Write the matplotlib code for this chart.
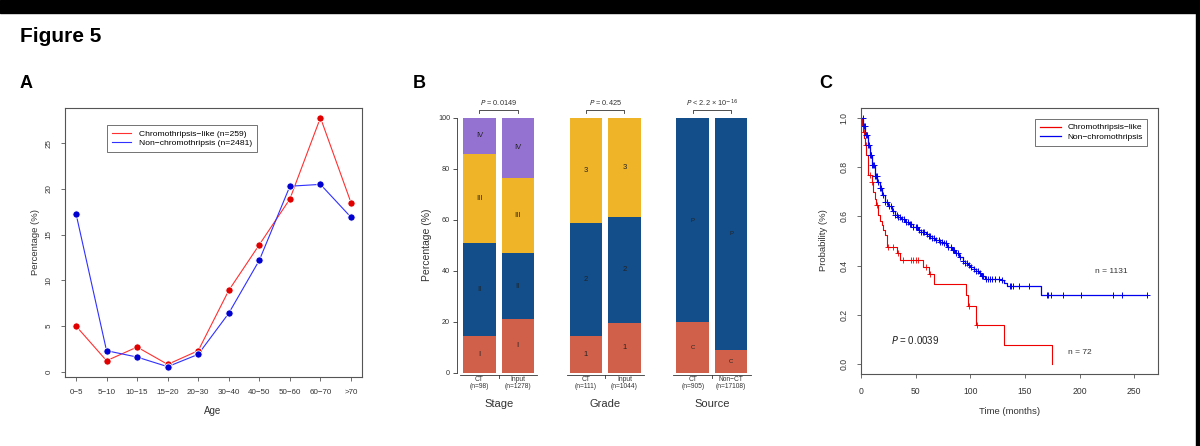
import matplotlib
matplotlib.use("Agg")
import matplotlib.pyplot as plt
from matplotlib.patches import Rectangle
from matplotlib.lines import Line2D
import numpy as np

plt.rcParams['font.family'] = ['Liberation Sans', 'DejaVu Sans']

# ---- data panel A ----
aldersgrupper = ["0−5", "5−10", "10−15", "15−20", "20−30", "30−40", "40−50", "50−60", "60−70", ">70"]
chromo_pct = [5.0, 1.2, 2.7, 0.8, 2.3, 8.9, 13.9, 18.9, 27.8, 18.5]
non_chromo_pct = [17.3, 2.3, 1.6, 0.55, 1.9, 6.4, 12.2, 20.3, 20.5, 16.9]

# ---- data panel B ----
grupper = ["Stage", "Grade", "Source"]
bar_labels = ["CT\n(n=98)", "Input\n(n=1278)", "CT\n(n=111)", "Input\n(n=1044)",
              "CT\n(n=905)", "Non−CT\n(n=17108)"]
p_tekst = [r"$P$ = 0.0149", r"$P$ = 0.425", r"$P$ < 2.2 × 10$^{-16}$"]
# segmenter nedenfra og opp (prosent)
stage_seg = [["I", "II", "III", "IV"], [[14.4, 36.6, 34.8, 14.2], [21.0, 26.0, 29.4, 23.6]]]
grade_seg = [["1", "2", "3"], [[14.4, 44.2, 41.4], [19.5, 41.7, 38.8]]]
source_seg = [["C", "P"], [[19.7, 80.3], [9.0, 91.0]]]

# ---- data panel C (Kaplan-Meier, lest av bildet) ----
red_t = [0, 1, 2.1, 3, 3.7, 5, 6.1, 6.7, 9.8, 11.3, 12.5, 13.4, 15.9, 17.5, 18.9, 20.5, 22,
         23.5, 32.7, 35.5, 57, 62.2, 67, 96, 97.5, 105.5, 131, 174.5]
red_s = [1.0, 0.972, 0.943, 0.916, 0.889, 0.847, 0.808, 0.767, 0.74, 0.70, 0.672, 0.646, 0.605,
         0.58, 0.565, 0.545, 0.524, 0.477, 0.45, 0.423, 0.396, 0.365, 0.325, 0.281, 0.236,
         0.159, 0.078, 0.0]
red_cens = [2.5, 4.5, 8.5, 10.5, 14.5, 24.5, 29, 33.5, 38.5, 46, 48, 50, 52, 59, 63, 98.5, 106]

blue_t = [0, 2, 4, 6, 8, 10, 13, 15, 17, 19.5, 22, 25, 28, 31, 34, 37, 40, 44, 48, 52, 55, 59,
          62, 65, 68, 72, 75, 79, 83, 86, 90, 93, 95, 98, 100, 103, 105, 108, 110, 113, 128,
          131, 133.3, 164.4, 262]
blue_s = [1.0, 0.965, 0.93, 0.89, 0.85, 0.81, 0.765, 0.74, 0.713, 0.685, 0.66, 0.64, 0.62,
          0.607, 0.597, 0.588, 0.578, 0.567, 0.555, 0.545, 0.537, 0.53, 0.522, 0.513, 0.504,
          0.497, 0.49, 0.477, 0.463, 0.45, 0.435, 0.42, 0.41, 0.402, 0.395, 0.388, 0.38,
          0.372, 0.36, 0.345, 0.34, 0.328, 0.318, 0.281, 0.281]
blue_cens = [1.5, 2.5, 3.5, 4.5, 5.5, 6.5, 7, 8, 9, 9.5, 10.5, 11, 12, 13, 13.5, 14.5, 16, 17,
             18.5, 20, 22, 24, 26, 27.5, 29, 31, 32.5, 34, 36, 37.5, 39, 41, 43, 44.5, 46, 48,
             50, 51.5, 53, 55, 56.5, 58, 60, 62, 63.5, 65, 67, 69, 71, 72.5, 74, 76, 78, 80,
             82, 84, 85.5, 87, 89, 91, 93, 95, 97, 99, 101, 103, 105, 107, 109, 110.5, 112,
             114, 116, 118, 120, 123, 126, 129, 136, 137.5, 139, 144.5, 153.5, 170, 171.5,
             173.5, 185, 201.3, 230.8, 238.5, 262]

W, H = 1200, 446
fig = plt.figure(figsize=(12, 4.46), dpi=100)


def px_box(l, t, r, b):
    return [l / W, 1 - b / H, (r - l) / W, (b - t) / H]


def ftext(x, y, s, **kw):
    fig.text(x / W, 1 - y / H, s, **kw)


# svarte kanter
fig.add_artist(Rectangle((0, 1 - 13 / H), 1, 13 / H, transform=fig.transFigure, color="black"))
fig.add_artist(Rectangle((1 - 4 / W, 0), 4 / W, 1, transform=fig.transFigure, color="black"))

ftext(20, 42, "Figure 5", fontsize=15, fontweight="bold", va="baseline")
ftext(20, 88, "A", fontsize=13, fontweight="bold", va="baseline")
ftext(413, 88, "B", fontsize=13, fontweight="bold", va="baseline")
ftext(819, 88, "C", fontsize=13, fontweight="bold", va="baseline")

gray = "#555555"
txt = "#333333"

# ================= A =================
axA = fig.add_axes(px_box(65, 108, 362, 377))
x = np.arange(1, len(aldersgrupper) + 1)
axA.plot(x, chromo_pct, color="#ff3030", lw=0.8, zorder=2)
axA.plot(x, non_chromo_pct, color="#3030ff", lw=0.8, zorder=2)
axA.plot(x, chromo_pct, "o", color="#e00000", ms=5.2, mec="white", mew=0.6, zorder=3)
axA.plot(x, non_chromo_pct, "o", color="#0000d0", ms=5.2, mec="white", mew=0.6, zorder=3)
axA.set_xlim(0.64, 10.36)
axA.set_ylim(-0.58, 28.86)
axA.set_xticks(x)
axA.set_xticklabels(aldersgrupper, fontsize=5.8)
axA.set_yticks([0, 5, 10, 15, 20, 25])
axA.set_yticklabels(["0", "5", "10", "15", "20", "25"], fontsize=5.8, rotation=90, va="center")
for sp in axA.spines.values():
    sp.set_color(gray)
    sp.set_linewidth(0.8)
axA.tick_params(length=3, width=0.6, color=gray, pad=6, labelcolor=txt)
ftext(213, 411, "Age", fontsize=7, ha="center", va="center", color=txt)
ftext(36, 242, "Percentage (%)", fontsize=6.8, ha="center", va="center", rotation=90, color=txt)
hA = [Line2D([], [], color="#ff3030", lw=0.8), Line2D([], [], color="#3030ff", lw=0.8)]
legA = axA.legend(hA, ["Chromothripsis−like (n=259)", "Non−chromothripsis (n=2481)"],
                  loc="upper left", bbox_to_anchor=((107 - 65) / 297, (377 - 125) / 269),
                  fontsize=6.1, frameon=True, fancybox=False, handlelength=2.3,
                  borderpad=0.55, labelspacing=0.2, handletextpad=0.9, borderaxespad=0)
legA.get_frame().set_edgecolor(txt)
legA.get_frame().set_linewidth(0.6)

# ================= B =================
farger = {"I": "#d0604a", "II": "#134e8a", "III": "#f0b428", "IV": "#9472d2",
          "1": "#d0604a", "2": "#134e8a", "3": "#f0b428",
          "C": "#d0604a", "P": "#134e8a"}
axB = fig.add_axes(px_box(457, 117.7, 760, 372.7))
axB.set_xlim(-0.69, 8.63)
axB.set_ylim(0, 100)
posisjoner = []
for g in range(3):
    for k in range(2):
        posisjoner.append(g * 3.28 + k * 1.18)
alle_seg = [stage_seg, grade_seg, source_seg]
for g, (navn, verdier) in enumerate(alle_seg):
    for k in range(2):
        pos = posisjoner[2 * g + k]
        bunn = 0
        for lab, v in zip(navn, verdier[k]):
            axB.bar(pos, v, bottom=bunn, width=1.0, color=farger[lab], edgecolor="none")
            fs = 4.3 if g == 2 else 5.5
            axB.text(pos, bunn + v / 2, lab, ha="center", va="center", fontsize=fs,
                     color="#222222")
            bunn += v
    p0, p1 = posisjoner[2 * g], posisjoner[2 * g + 1]
    # akselinje under gruppen
    axB.plot([p0 - 0.6, p1 + 0.6], [-0.9, -0.9], color=txt, lw=0.6, clip_on=False)
    axB.plot([(p0 + p1) / 2] * 2, [-0.9, -2.2], color=txt, lw=0.6, clip_on=False)
    axB.text(p0, -1.3, bar_labels[2 * g], ha="center", va="top", fontsize=4.8,
             color=txt, linespacing=1.05)
    axB.text(p1, -1.3, bar_labels[2 * g + 1], ha="center", va="top", fontsize=4.8,
             color=txt, linespacing=1.05)
    axB.text((p0 + p1) / 2, -12.3, grupper[g], ha="center", va="center", fontsize=8,
             color=txt)
    # p-verdi klamme
    axB.plot([p0, p0, p1, p1], [102.0, 103.0, 103.0, 102.0], color=txt, lw=0.6,
             clip_on=False)
    axB.text((p0 + p1) / 2, 105.8, p_tekst[g], ha="center", va="center", fontsize=5.3,
             color=txt)
for side in ["top", "right", "bottom"]:
    axB.spines[side].set_visible(False)
axB.spines["left"].set_bounds(0, 100)
axB.spines["left"].set_color(txt)
axB.spines["left"].set_linewidth(0.6)
axB.set_xticks([])
axB.set_yticks([0, 20, 40, 60, 80, 100])
axB.tick_params(axis="y", length=3, width=0.6, color=txt, labelsize=5.2, pad=2,
                labelcolor=txt)
ftext(427, 245, "Percentage (%)", fontsize=7.5, ha="center", va="center", rotation=90,
      color=txt)

# ================= C =================
axC = fig.add_axes(px_box(861, 108.3, 1157.7, 374))
axC.step(red_t, red_s, where="post", color="#ee0000", lw=0.8)
axC.step(blue_t, blue_s, where="post", color="#0000ee", lw=0.9)


def censor_y(tid, st, ss):
    idx = np.searchsorted(st, tid, side="right") - 1
    return np.array(ss)[idx]


axC.plot(red_cens, censor_y(red_cens, red_t, red_s), "+", color="#ee0000", ms=4.5, mew=0.6)
axC.plot(blue_cens, censor_y(blue_cens, blue_t, blue_s), "+", color="#0000ee", ms=4.5, mew=0.7)
axC.set_xlim(0, 271.4)
axC.set_ylim(-0.039, 1.038)
axC.set_xticks([0, 50, 100, 150, 200, 250])
axC.set_xticklabels(["0", "50", "100", "150", "200", "250"], fontsize=6.2)
axC.set_yticks([0, 0.2, 0.4, 0.6, 0.8, 1.0])
axC.set_yticklabels(["0.0", "0.2", "0.4", "0.6", "0.8", "1.0"], fontsize=6.2, rotation=90,
                    va="center")
for sp in axC.spines.values():
    sp.set_color(gray)
    sp.set_linewidth(0.8)
axC.tick_params(length=3, width=0.6, color=gray, pad=6, labelcolor=txt)
ftext(1010, 411, "Time (months)", fontsize=6.8, ha="center", va="center", color=txt)
ftext(824, 240, "Probability (%)", fontsize=6.8, ha="center", va="center", rotation=90,
      color=txt)
axC.text(229.4, 0.378, "n = 1131", fontsize=6, ha="center", va="center", color=txt)
axC.text(200.4, 0.047, "n = 72", fontsize=6, ha="center", va="center", color=txt)
axC.text(50, 0.10, r"$P$ = 0.0039", fontsize=7, ha="center", va="center", color="#222222")
hC = [Line2D([], [], color="#ee0000", lw=0.9), Line2D([], [], color="#0000ee", lw=0.9)]
legC = axC.legend(hC, ["Chromothripsis−like", "Non−chromothripsis"], loc="upper right",
                  bbox_to_anchor=((1147.3 - 861) / 296.7, (374 - 119) / 265.7),
                  fontsize=6, frameon=True, fancybox=False, handlelength=2.5,
                  borderpad=0.55, labelspacing=0.25, handletextpad=0.8, borderaxespad=0)
legC.get_frame().set_edgecolor(txt)
legC.get_frame().set_linewidth(0.6)

fig.savefig("out.png", dpi=100)
